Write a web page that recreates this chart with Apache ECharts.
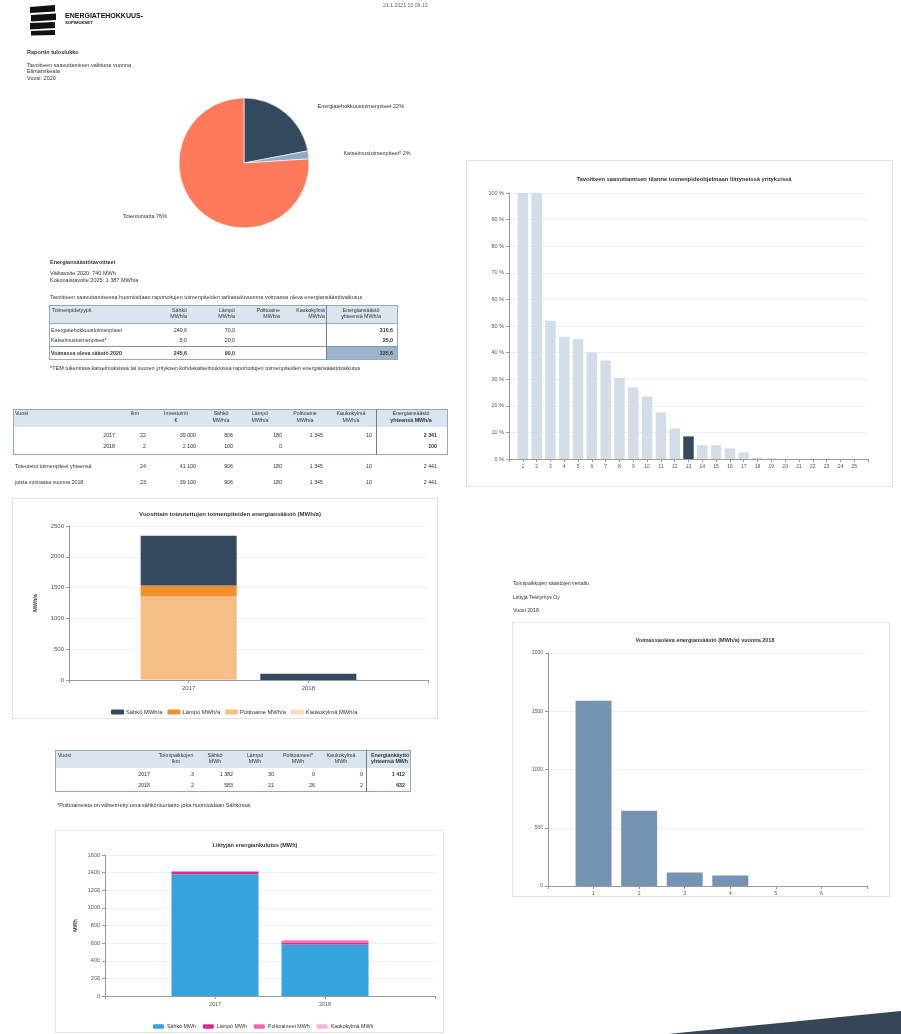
<!DOCTYPE html>
<html>
<head>
<meta charset="utf-8">
<script src="https://cdn.jsdelivr.net/npm/echarts@6/dist/echarts.min.js"></script>
<style>
html,body{margin:0;padding:0;background:#fff;}
#page{position:relative;width:901px;height:1034px;overflow:hidden;font-family:'Liberation Sans',Arial,sans-serif;color:#333;}
.t{position:absolute;white-space:nowrap;}
.r{position:absolute;box-sizing:border-box;}
</style>
</head>
<body>
<div id="page">
  <div id="c" style="position:absolute;left:0;top:0;width:901px;height:1034px;"></div>
</div>
<script>
// ---------------- DATA ----------------
const pieNames = ['Energiatehokkuustoimenpiteet', 'Katselmustoimenpiteet*', 'Toteutumatta'];
const pieValues = [22, 2, 76];

const yearCats = ['2017', '2018'];
const savSahko = [806, 100];
const savLampo = [180, 0];
const savPoltto = [1345, 0];
const savKauko = [10, 0];

const useSahko = [1382, 583];
const useLampo = [30, 21];
const usePoltto = [0, 26];
const useKauko = [0, 2];

const rankCats = ['1','2','3','4','5','6','7','8','9','10','11','12','13','14','15','16','17','18','19','20','21','22','23','24','25'];
const rankValues = [100, 100, 52, 46, 45, 40, 37, 30.5, 27, 23.5, 17.5, 11.5, 8.5, 5.2, 5.2, 4, 2.5, 0.5, 0.3, 0, 0, 0, 0, 0, 0];
const rankOwn = '13';

const siteCats = ['1','2','3','4','5','6'];
const siteValues = [1590, 645, 115, 90, 0, 0];

const pctTicks = [0, 10, 20, 30, 40, 50, 60, 70, 80, 90, 100];

// table texts
const t1Header = [['Sähkö','MWh/a'], ['Lämpö','MWh/a'], ['Polttoaine','MWh/a'], ['Kaukokylmä','MWh/a']];
const t1Rows = [
  ['Energiatehokkuustoimenpiteet', '240,6', '70,0', '', '', '310,6'],
  ['Katselmustoimenpiteet*', '5,0', '20,0', '', '', '25,0']
];
const t1Total = ['Voimassa oleva säästö 2020', '245,6', '90,0', '', '', '335,6'];

const t2Header = [['lkm'], ['Investointi','€'], ['Sähkö','MWh/a'], ['Lämpö','MWh/a'], ['Polttoaine','MWh/a'], ['Kaukokylmä','MWh/a']];
const t2Rows = [
  ['2017', '22', '39 000', '806', '180', '1 345', '10', '2 341'],
  ['2018', '2', '2 100', '100', '0', '', '', '100']
];
const t2Sums = [
  ['Toteutetut toimenpiteet yhteensä', '24', '41 100', '906', '180', '1 345', '10', '2 441'],
  ['joista voimassa vuonna 2018', '23', '39 100', '906', '180', '1 345', '10', '2 441']
];

const t3Header = [['Toimipaikkojen','lkm'], ['Sähkö','MWh'], ['Lämpö','MWh'], ['Polttoaineet*','MWh'], ['Kaukokylmä','MWh']];
const t3Rows = [
  ['2017', '3', '1 382', '30', '0', '0', '1 412'],
  ['2018', '2', '583', '21', '26', '2', '632']
];

// ---------------- HTML helpers ----------------
const page = document.getElementById('page');
function T(x, y, s, o) {
  o = o || {};
  const fs = o.fs || 5.5;
  const d = document.createElement('div');
  d.className = 't';
  d.textContent = s;
  d.style.fontSize = fs + 'px';
  d.style.lineHeight = (fs * 1.2) + 'px';
  d.style.top = (y - fs * 0.6) + 'px';
  d.style.left = x + 'px';
  d.style.color = o.c || '#333';
  if (o.b) d.style.fontWeight = 'bold';
  if (o.a === 'r') d.style.transform = 'translateX(-100%)';
  else if (o.a === 'c') d.style.transform = 'translateX(-50%)';
  page.appendChild(d);
}
function R(x1, y1, x2, y2, fill, border, bw) {
  const d = document.createElement('div');
  d.className = 'r';
  d.style.left = x1 + 'px'; d.style.top = y1 + 'px';
  d.style.width = (x2 - x1) + 'px'; d.style.height = (y2 - y1) + 'px';
  if (fill) d.style.background = fill;
  if (border) d.style.border = (bw || 1) + 'px solid ' + border;
  page.insertBefore(d, document.getElementById('c'));
  return d;
}

// ---------------- chart boxes ----------------
R(12, 498, 438, 719, null, '#e3e3e3', 1);
R(55, 830, 444, 1033, null, '#e3e3e3', 1);
R(466, 160, 893, 487, null, '#e3e3e3', 1);
R(512, 622, 890, 897, null, '#e3e3e3', 1);

// ---------------- header ----------------
const svgNS = 'http://www.w3.org/2000/svg';
const logo = document.createElementNS(svgNS, 'svg');
logo.setAttribute('width', '901'); logo.setAttribute('height', '1034');
logo.style.position = 'absolute'; logo.style.left = '0'; logo.style.top = '0';
logo.innerHTML =
  '<g fill="#111">' +
  '<path d="M30,7 L55,5 L55,11.5 L30,13 Z"/>' +
  '<path d="M31,15 L56,13.5 L56,20 L31,21.5 Z"/>' +
  '<path d="M30,23 L55,22 L55,28 L30,29.5 Z"/>' +
  '<path d="M31,31 L55,30 L55,35 L31,35.5 Z"/>' +
  '</g>' +
  '<polygon points="668,1034 901,1011 901,1034" fill="#354656"/>';
page.appendChild(logo);
T(65, 16, 'ENERGIATEHOKKUUS-', {fs: 7, b: true, c: '#111'});
T(65, 23, 'SOPIMUKSET', {fs: 4.2, b: true, c: '#111'});
T(383, 5, '21.1.2021 10.09.13', {fs: 5.2, c: '#666'});

T(27, 52, 'Raportin tuloslukko', {b: true});
T(27, 65, 'Tavoitteen saavuttaminen valittuna vuonna');
T(27, 71.5, 'Elintarvikeala');
T(27, 78, 'Vuosi: 2020');

// ---------------- energy targets + table 1 ----------------
T(50, 262, 'Energiansäästötavoitteet', {b: true});
T(50, 273, 'Välitavoite 2020: 740 MWh');
T(50, 280, 'Kokonaistavoite 2025: 1 387 MWh/a');
T(50, 297, 'Tavoitteen saavuttamisessa huomioidaan raportoitujen toimenpiteiden tarkasteluvuonna voimassa oleva energiansäästövaikutus');

R(50, 306, 397, 323, '#dae5ef');
R(327, 347, 397, 359, '#9cb5cc');
R(49, 305, 398, 360, null, '#8eaac4', 1);
R(49, 323, 398, 324, '#8eaac4');
R(49, 346, 398, 347.2, '#7d97b0');
R(325.5, 305, 327, 360, '#6f8191');
const t1Right = [187, 235, 280, 325, 393];
T(52, 310, 'Toimenpidetyypit', {fs: 5.3});
t1Header.forEach((h, i) => { T(t1Right[i], 310, h[0], {fs: 5.3, a: 'r'}); T(t1Right[i], 316.5, h[1], {fs: 5.3, a: 'r'}); });
T(361, 310, 'Energiansäästö', {fs: 5.3, a: 'c'});
T(361, 316.5, 'yhteensä MWh/a', {fs: 5.3, a: 'c'});
[330, 340].forEach((y, r) => {
  const row = t1Rows[r];
  T(51, y, row[0], {fs: 5.3});
  for (let k = 1; k < row.length; k++) if (row[k]) T(t1Right[k - 1], y, row[k], {fs: 5.3, a: 'r', b: k === 5});
});
T(51, 353, t1Total[0], {fs: 5.3, b: true});
for (let k = 1; k < t1Total.length; k++) if (t1Total[k]) T(t1Right[k - 1], 353, t1Total[k], {fs: 5.3, a: 'r', b: true});
T(50, 368, '*TEM tukemissa katselmuksissa tai suuren yrityksen kohdekatselmuksissa raportoitujen toimenpiteiden energiansäästövaikutus');

// ---------------- table 2 ----------------
R(14, 410, 447, 427, '#dae5ef');
R(13, 409, 448, 455, null, '#8eaac4', 1);
R(375.5, 409, 377, 455, '#6f8191');
const t2Centers = [135, 176, 221, 260, 305, 351];
T(15, 413.5, 'Vuosi', {fs: 5.3});
t2Header.forEach((h, i) => { T(t2Centers[i], 413.5, h[0], {fs: 5.3, a: 'c'}); if (h[1]) T(t2Centers[i], 420, h[1], {fs: 5.3, a: 'c'}); });
T(411, 413.5, 'Energiansäästö', {fs: 5.3, a: 'c'});
T(411, 420, 'yhteensä MWh/a', {fs: 5.3, a: 'c', b: true});
const t2Right = [115, 146, 196, 233, 282, 323, 372, 437];
[434.7, 446].forEach((y, r) => {
  t2Rows[r].forEach((v, k) => { if (v) T(t2Right[k], y, v, {fs: 5.3, a: 'r', b: k === 7}); });
});
[465.7, 481.7].forEach((y, r) => {
  const row = t2Sums[r];
  T(15, y, row[0], {fs: 5.3});
  for (let k = 1; k < row.length; k++) T(t2Right[k], y, row[k], {fs: 5.3, a: 'r'});
});

// ---------------- table 3 ----------------
R(56, 751, 410, 768, '#dae5ef');
R(55, 750, 411, 792, null, '#8eaac4', 1);
R(365.5, 750, 367, 792, '#6f8191');
const t3Centers = [176, 215, 255, 298, 341];
T(58, 755, 'Vuosi', {fs: 5.3});
t3Header.forEach((h, i) => { T(t3Centers[i], 755, h[0], {fs: 5.3, a: 'c'}); T(t3Centers[i], 761, h[1], {fs: 5.3, a: 'c'}); });
T(371, 755, 'Energiankäyttö', {fs: 5.3, b: true});
T(371, 761, 'yhteensä MWh', {fs: 5.3, b: true});
const t3Right = [150, 194, 233, 274, 315, 363, 405];
[774, 785].forEach((y, r) => {
  t3Rows[r].forEach((v, k) => T(t3Right[k], y, v, {fs: 5.3, a: 'r', b: k === 6}));
});
T(57, 805, '*Polttoaineista on vähennetty oma sähköntuotanto joka huomioidaan Sähkössä.');

// ---------------- right-bottom intro ----------------
T(513, 583, 'Toimipaikkojen säästöjen vertailu', {fs: 5.2});
T(513, 597, 'Liittyjä Testiyritys Oy', {fs: 5.2});
T(513, 610, 'Vuosi 2018', {fs: 5.2});

// ---------------- ECharts ----------------
const F = "'Liberation Sans', Arial, sans-serif";
const pad = a => ['', ...a, ''];
const padV = a => [null, ...a, null];

const axisLineS = {show: true, lineStyle: {color: '#9a9a9a', width: 1}};
const tickS = {show: true, length: 3, lineStyle: {color: '#9a9a9a'}};
const splitS = {show: true, lineStyle: {color: '#efefef', width: 1}};
const lab = fs => ({fontSize: fs, color: '#555', fontFamily: F});

function catX(grid, cats, fs) {
  return {type: 'category', gridIndex: grid, data: pad(cats), boundaryGap: false,
    axisLine: axisLineS, axisTick: Object.assign({interval: 0}, tickS),
    axisLabel: Object.assign({interval: 0, margin: 5}, lab(fs)), splitLine: {show: false}};
}
function valY(grid, max, interval, fs, extra) {
  return Object.assign({type: 'value', gridIndex: grid, min: 0, max: max, interval: interval,
    axisLine: axisLineS, axisTick: tickS,
    axisLabel: Object.assign({margin: 5, formatter: v => String(v)}, lab(fs)), splitLine: splitS}, extra || {});
}

const chart = echarts.init(document.getElementById('c'), null, {renderer: 'canvas', width: 901, height: 1034});
const option = {
  animation: false,
  backgroundColor: 'transparent',
  textStyle: {fontFamily: F},
  title: [
    {text: 'Vuosittain toteutettujen toimenpiteiden energiansäästö (MWh/a)', left: 225, top: 506, textAlign: 'center',
      textStyle: {fontSize: 6, fontWeight: 'bold', color: '#333', fontFamily: F}},
    {text: 'Liittyjän energiankulutus (MWh)', left: 250, top: 837, textAlign: 'center',
      textStyle: {fontSize: 5.6, fontWeight: 'bold', color: '#333', fontFamily: F}},
    {text: 'Tavoitteen saavuttamisen tilanne toimenpideohjelmaan liittyneissä yrityksissä', left: 679, top: 171, textAlign: 'center',
      textStyle: {fontSize: 5.8, fontWeight: 'bold', color: '#333', fontFamily: F}},
    {text: 'Voimassaoleva energiansäästö (MWh/a) vuonna 2018', left: 700, top: 632, textAlign: 'center',
      textStyle: {fontSize: 5.5, fontWeight: 'bold', color: '#333', fontFamily: F}}
  ],
  legend: [
    {data: ['Sähkö MWh/a', 'Lämpö MWh/a', 'Polttoaine MWh/a', 'Kaukokylmä MWh/a'], left: 106, top: 704,
      itemWidth: 13, itemHeight: 5, itemGap: 5, icon: 'roundRect',
      textStyle: {fontSize: 5.8, color: '#333', fontFamily: F, padding: [0, 0, 0, -3]}},
    {data: ['Sähkö MWh', 'Lämpö MWh', 'Polttoaineet MWh', 'Kaukokylmä MWh'], left: 148, top: 1019,
      itemWidth: 11, itemHeight: 4.5, itemGap: 7, icon: 'roundRect',
      textStyle: {fontSize: 5.3, color: '#333', fontFamily: F, padding: [0, 0, 0, -2]}}
  ],
  grid: [
    {left: 69, top: 526, width: 359, height: 154},
    {left: 105, top: 855, width: 330, height: 141},
    {left: 509, top: 193, width: 359, height: 266},
    {left: 548, top: 653, width: 319, height: 233}
  ],
  xAxis: [
    catX(0, yearCats, 6),
    catX(1, yearCats, 5.5),
    catX(2, rankCats, 5),
    catX(3, siteCats, 5)
  ],
  yAxis: [
    valY(0, 2500, 500, 6, {name: 'MWh/a', nameLocation: 'middle', nameGap: 31, nameRotate: 90,
      nameTextStyle: {fontSize: 5.5, fontWeight: 'bold', color: '#444', fontFamily: F}}),
    valY(1, 1600, 200, 5.5, {name: 'MWh', nameLocation: 'middle', nameGap: 27, nameRotate: 90,
      nameTextStyle: {fontSize: 5.3, fontWeight: 'bold', color: '#444', fontFamily: F}}),
    valY(2, pctTicks[pctTicks.length - 1], pctTicks[1] - pctTicks[0], 5.5, {axisLabel: Object.assign({margin: 5, formatter: v => v + ' %'}, lab(5.5))}),
    valY(3, 2000, 500, 5)
  ],
  series: [
    // chart 1 (stack order bottom -> top)
    {name: 'Kaukokylmä MWh/a', type: 'bar', stack: 's1', xAxisIndex: 0, yAxisIndex: 0, barWidth: 96, data: padV(savKauko), itemStyle: {color: '#fbdcbc'}},
    {name: 'Polttoaine MWh/a', type: 'bar', stack: 's1', xAxisIndex: 0, yAxisIndex: 0, barWidth: 96, data: padV(savPoltto), itemStyle: {color: '#f5be87'}},
    {name: 'Lämpö MWh/a', type: 'bar', stack: 's1', xAxisIndex: 0, yAxisIndex: 0, barWidth: 96, data: padV(savLampo), itemStyle: {color: '#f0902c'}},
    {name: 'Sähkö MWh/a', type: 'bar', stack: 's1', xAxisIndex: 0, yAxisIndex: 0, barWidth: 96, data: padV(savSahko), itemStyle: {color: '#34495e'}},
    // chart 2
    {name: 'Sähkö MWh', type: 'bar', stack: 's2', xAxisIndex: 1, yAxisIndex: 1, barWidth: 87, data: padV(useSahko), itemStyle: {color: '#35a3dc'}},
    {name: 'Lämpö MWh', type: 'bar', stack: 's2', xAxisIndex: 1, yAxisIndex: 1, barWidth: 87, data: padV(useLampo), itemStyle: {color: '#de2a8c'}},
    {name: 'Polttoaineet MWh', type: 'bar', stack: 's2', xAxisIndex: 1, yAxisIndex: 1, barWidth: 87, data: padV(usePoltto), itemStyle: {color: '#f065b2'}},
    {name: 'Kaukokylmä MWh', type: 'bar', stack: 's2', xAxisIndex: 1, yAxisIndex: 1, barWidth: 87, data: padV(useKauko), itemStyle: {color: '#f7b3d6'}},
    // top right ranking
    {name: 'Tilanne', type: 'bar', xAxisIndex: 2, yAxisIndex: 2, barWidth: 10.5,
      data: padV(rankValues).map((v, i) => v === null ? null : {value: v, itemStyle: {color: pad(rankCats)[i] === rankOwn ? '#34495e' : '#d3dde7'}})},
    // right bottom
    {name: 'Säästö', type: 'bar', xAxisIndex: 3, yAxisIndex: 3, barWidth: 36, data: padV(siteValues), itemStyle: {color: '#7594b3'}},
    // pie
    {name: 'Pie', type: 'pie', center: [244, 163], radius: 65, startAngle: 90, clockwise: true, avoidLabelOverlap: false,
      itemStyle: {borderColor: '#fff', borderWidth: 0.6},
      label: {show: true, position: 'outside', fontSize: 5.5, color: '#333', fontFamily: F, formatter: p => p.name + ' ' + p.value + '%'},
      labelLine: {show: false, length: 8, length2: 22},
      data: pieNames.map((n, i) => ({name: n, value: pieValues[i], itemStyle: {color: ['#34495e', '#8eaac8', '#fe7a5b'][i]}}))}
  ]
};
chart.setOption(option);
</script>
</body>
</html>
